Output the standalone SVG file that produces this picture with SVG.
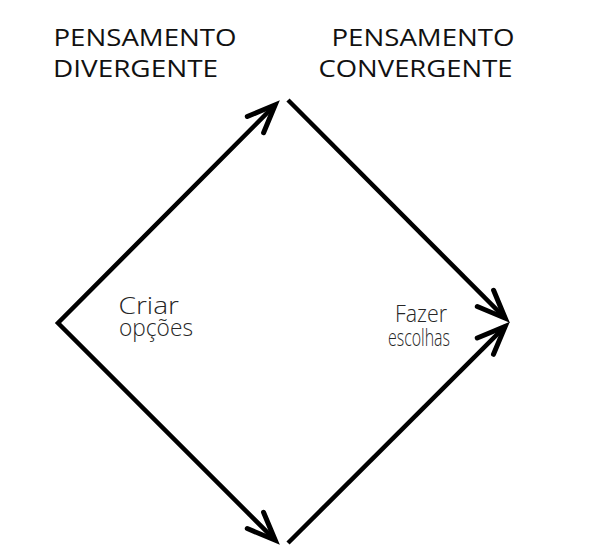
<svg xmlns="http://www.w3.org/2000/svg" width="611" height="555" viewBox="0 0 611 555">
  <style>
    .title { font-family: "Open Sans", "Noto Sans", "Liberation Sans", sans-serif; font-size: 23.5px; fill: #111; }
    .label { font-family: "Open Sans", "Noto Sans", "Liberation Sans", sans-serif; font-size: 23.5px; font-weight: 300; fill: #262626; }
    .conn { fill: none; stroke: #000; stroke-width: 4.5; stroke-linecap: butt; stroke-linejoin: miter; }
  </style>
  <defs>
    <marker id="ah" markerUnits="userSpaceOnUse" markerWidth="40" markerHeight="30" refX="0" refY="0" orient="auto-start-reverse" overflow="visible">
      <path d="M-28,-11.5 L0,0 L-28,11.5" fill="none" stroke="#000" stroke-width="5" stroke-linecap="round" stroke-linejoin="miter"/>
    </marker>
  </defs>
  <rect width="611" height="555" fill="#fff"/>
  <g id="connectors">
    <path class="conn" d="M275.2,104.8 L58,323 L275.2,540.2" marker-start="url(#ah)" marker-end="url(#ah)"/>
    <path class="conn" d="M288,100 L505.2,318.2" marker-end="url(#ah)"/>
    <path class="conn" d="M288,543 L505.2,326.4" marker-end="url(#ah)"/>
  </g>
  <g id="divergente">
    <text class="title" x="53.5" y="46" textLength="183" lengthAdjust="spacingAndGlyphs">PENSAMENTO</text>
    <text class="title" x="53" y="76.5" textLength="165" lengthAdjust="spacingAndGlyphs">DIVERGENTE</text>
  </g>
  <g id="convergente">
    <text class="title" x="331.5" y="46" textLength="183" lengthAdjust="spacingAndGlyphs">PENSAMENTO</text>
    <text class="title" x="318.5" y="76.5" textLength="194" lengthAdjust="spacingAndGlyphs">CONVERGENTE</text>
  </g>
  <g id="criar-opcoes">
    <text class="label" x="118.5" y="313.5" textLength="60.5" lengthAdjust="spacingAndGlyphs">Criar</text>
    <text class="label" x="119" y="336" textLength="74" lengthAdjust="spacingAndGlyphs">opções</text>
  </g>
  <g id="fazer-escolhas">
    <text class="label" x="395" y="322" textLength="52" lengthAdjust="spacingAndGlyphs">Fazer</text>
    <text class="label" x="388" y="346" textLength="62" lengthAdjust="spacingAndGlyphs">escolhas</text>
  </g>
</svg>
